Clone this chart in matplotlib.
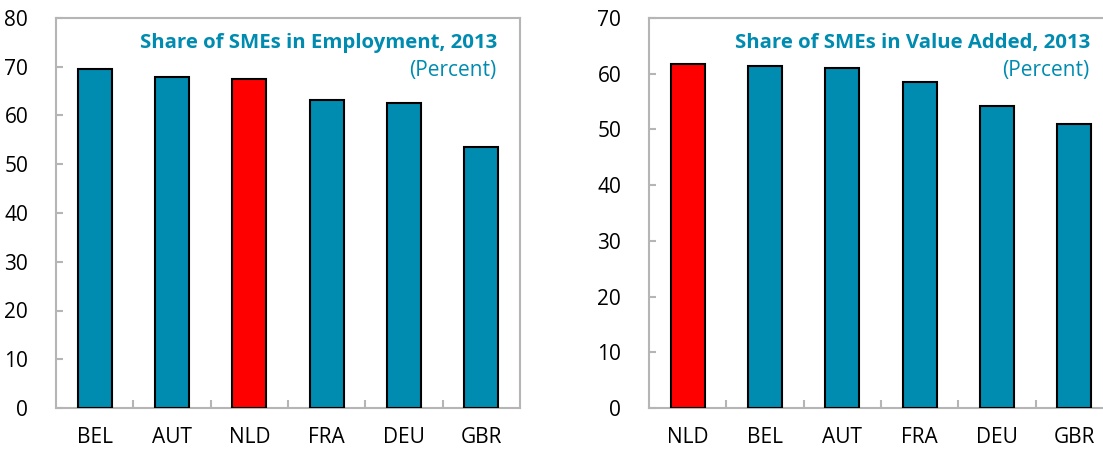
import matplotlib.pyplot as plt
import numpy as np

# Share of SMEs, 2013 (percent)
emp_countries = ['BEL', 'AUT', 'NLD', 'FRA', 'DEU', 'GBR']
emp_values = [69.6, 67.9, 67.5, 63.1, 62.6, 53.6]

va_countries = ['NLD', 'BEL', 'AUT', 'FRA', 'DEU', 'GBR']
va_values = [61.8, 61.4, 61.1, 58.6, 54.2, 51.0]

teal = '#008BB0'
red = '#FF0000'
frame = '#B5B5B5'

plt.rcParams['font.family'] = ['Open Sans', 'DejaVu Sans']

fig = plt.figure(figsize=(11.03, 4.5), dpi=100)


def panel(rect, labels, values, ymax, title):
    ax = fig.add_axes(rect)
    x = np.arange(len(labels))
    colors = [red if c == 'NLD' else teal for c in labels]
    ax.bar(x, values, width=0.44, color=colors, edgecolor='black', linewidth=1.5, zorder=3)
    ax.set_xlim(-0.5, len(labels) - 0.5)
    ax.set_ylim(0, ymax)
    ax.set_yticks(np.arange(0, ymax + 1, 10))
    ax.set_xticks(x)
    ax.set_xticklabels(labels)
    ax.set_xticks(np.arange(0.5, len(labels) - 0.5, 1), minor=True)
    for s in ax.spines.values():
        s.set_color(frame)
        s.set_linewidth(1.5)
    ax.tick_params(axis='x', which='major', length=0, pad=14, labelsize=15)
    ax.tick_params(axis='x', which='minor', direction='in', length=6, color=frame, width=1.5)
    ax.tick_params(axis='y', direction='in', length=5, color=frame, width=1.5, pad=20, labelsize=15)
    ax.text(0.95, 0.935, title, transform=ax.transAxes, ha='right', va='center',
            color=teal, fontsize=14.7, fontweight='bold')
    ax.text(0.95, 0.865, '(Percent)', transform=ax.transAxes, ha='right', va='center',
            color=teal, fontsize=15)
    return ax


panel([56 / 1103, 42 / 450, 464 / 1103, 390 / 450], emp_countries, emp_values, 80,
      'Share of SMEs in Employment, 2013')
panel([649 / 1103, 42 / 450, 464 / 1103, 390 / 450], va_countries, va_values, 70,
      'Share of SMEs in Value Added, 2013')

plt.savefig('out.png', dpi=100)
